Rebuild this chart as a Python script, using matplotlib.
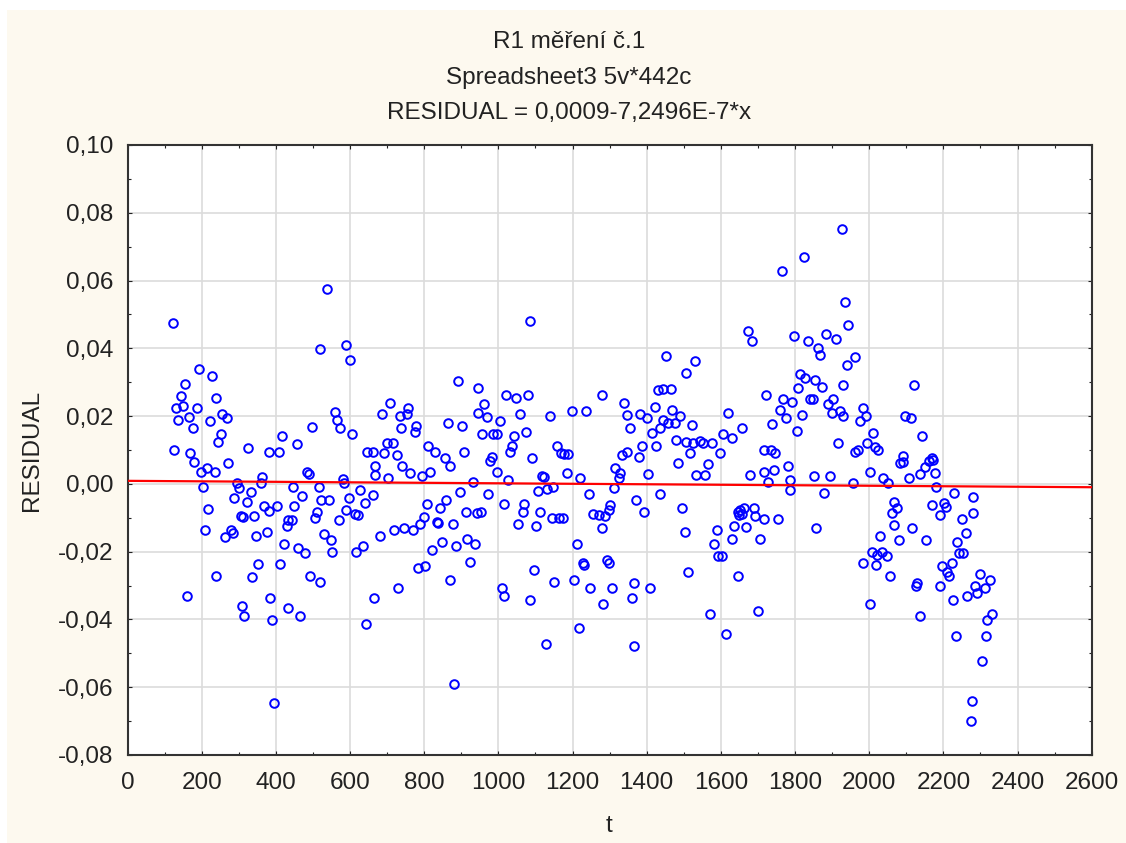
import matplotlib
matplotlib.use("Agg")
from matplotlib import pyplot as plt
from matplotlib.patches import Rectangle
from matplotlib.ticker import MultipleLocator, FuncFormatter
import numpy as np

plt.rcParams['font.family'] = ['Liberation Sans', 'DejaVu Sans']

# regression of RESIDUAL on t
intercept = 0.0009
slope = -7.2496e-7

# t, residual pairs (read per region of the t axis)
t = [122, 537, 519, 589, 600, 192, 228, 154, 143, 130, 149, 186, 239, 137, 166, 176, 222, 255, 267, 251,
     245, 126, 168, 326, 380, 409, 417, 456, 498, 559, 564, 573, 606, 645,
     179, 198, 215, 236, 272, 362, 359, 483, 488, 582, 584, 203, 294, 300, 332, 287, 321, 218, 305, 312,
     342, 368, 381, 402, 445, 471, 449, 516, 522, 543, 510, 505, 444, 433, 429, 209, 263, 279, 285, 346,
     375, 423, 460, 479, 530, 548, 552, 569, 596, 589, 613, 620, 627, 640, 616, 634, 353, 411, 238, 336,
     492, 519, 159, 384, 309, 314, 433, 465, 389, 642, 395,
     1085, 890, 946, 708, 757, 687, 735, 753, 736, 778, 775, 961, 946, 969, 1020, 1047, 1081, 1058, 1004, 865,
     903, 955, 986, 995, 1042, 1074, 1036, 1031, 1139, 1198, 1236, 1280, 1157, 1169, 1178, 1188, 1090, 699, 715, 663,
     692, 726, 811, 829, 856, 908, 982,
     870, 978, 667, 667, 703, 739, 762, 793, 816, 931, 996, 1027, 1117, 1122, 1184, 1220, 1148, 1108, 1130, 661,
     897, 973, 1015, 1069, 1065, 1112, 1144, 1164, 1175, 1243, 1256, 1270, 807, 843, 859, 798, 834, 838, 877, 913,
     942, 953, 1054, 1102, 789, 769, 746, 719, 681, 820, 847, 886, 916, 937, 924, 802, 784, 870, 730, 665,
     881, 1211, 1227, 1231, 1096, 1150, 1205, 1247, 1011, 1015, 1085, 1283, 1216, 1129,
     1926, 1824, 1764, 1935, 1944, 1674, 1685, 1798, 1836, 1863, 1867, 1884, 1911, 1940, 1930, 1452, 1529, 1506, 1431, 1445,
     1465, 1339, 1421, 1348, 1382, 1400, 1469, 1490, 1445, 1458, 1477, 1355, 1414, 1436, 1521, 1620, 1658, 1722, 1767, 1791,
     1760, 1775, 1818, 1739, 1805, 1812, 1827, 1854, 1872, 1809, 1841, 1848, 1890, 1903, 1899, 1922, 1930, 1917, 1479, 1506,
     1526, 1544, 1553, 1575, 1607, 1629, 1425, 1387, 1346, 1333, 1517, 1598, 1715, 1735, 1746, 1380,
     1485, 1566, 1315, 1328, 1324, 1312, 1404, 1533, 1556, 1679, 1715, 1742, 1728, 1782, 1787, 1787, 1851, 1895, 1878, 1857,
     1301, 1297, 1288, 1279, 1371, 1393, 1436, 1495, 1502, 1589, 1582, 1593, 1602, 1631, 1636, 1645, 1652, 1663, 1648, 1656,
     1668, 1690, 1692, 1715, 1706, 1755, 1294, 1299, 1512, 1647, 1307, 1367, 1409, 1361, 1571, 1701, 1614, 1367,
     1962, 2121, 1983, 1992, 1976, 2097, 2112, 2011, 2142, 1995, 2025, 2016, 1962, 1971, 2092, 2169,
     2092, 2083, 2160, 2172, 2151, 2137, 2178, 2002, 2038, 2052, 2106, 1956, 2181, 2229, 2281, 2067, 2074, 2061, 2170, 2190,
     2202, 2207, 2281, 2250, 2261, 2068, 2115, 2029, 2079, 2153, 2238, 2007, 2034, 2020, 2047, 1984, 2019, 2056, 2002, 2128,
     2126, 2137, 2243, 2254, 2223, 2196, 2209, 2214, 2191, 2226, 2299, 2326, 2286, 2313, 2291, 2265, 2331, 2317, 2234, 2315,
     2304, 2278, 2274]

residual = [0.0476, 0.0574, 0.0398, 0.0411, 0.0366, 0.0340, 0.0317, 0.0294, 0.0260, 0.0224, 0.0230, 0.0223, 0.0253, 0.0189, 0.0196, 0.0164, 0.0187, 0.0207, 0.0194, 0.0148,
            0.0123, 0.0099, 0.0091, 0.0106, 0.0094, 0.0094, 0.0140, 0.0118, 0.0169, 0.0213, 0.0189, 0.0164, 0.0148, 0.0095,
            0.0065, 0.0035, 0.0048, 0.0035, 0.0063, 0.0019, 0.0004, 0.0035, 0.0029, 0.0014, 0.0004, -0.0008, 0.0002, -0.0012, -0.0025, -0.0042, -0.0053, -0.0073, -0.0094, -0.0098,
            -0.0094, -0.0065, -0.0079, -0.0065, -0.0008, -0.0035, -0.0065, -0.0008, -0.0047, -0.0049, -0.0082, -0.0101, -0.0106, -0.0108, -0.0124, -0.0136, -0.0158, -0.0136, -0.0144, -0.0154,
            -0.0143, -0.0177, -0.0188, -0.0203, -0.0148, -0.0165, -0.0202, -0.0106, -0.0042, -0.0077, -0.0089, -0.0093, -0.0018, -0.0057, -0.0202, -0.0183, -0.0237, -0.0237, -0.0271, -0.0276,
            -0.0271, -0.0290, -0.0330, -0.0336, -0.0359, -0.0389, -0.0365, -0.0389, -0.0401, -0.0413, -0.0647,
            0.0481, 0.0305, 0.0282, 0.0240, 0.0225, 0.0207, 0.0201, 0.0207, 0.0166, 0.0171, 0.0153, 0.0235, 0.0210, 0.0196, 0.0263, 0.0253, 0.0263, 0.0206, 0.0187, 0.0179,
            0.0171, 0.0148, 0.0148, 0.0148, 0.0142, 0.0153, 0.0112, 0.0094, 0.0199, 0.0216, 0.0216, 0.0263, 0.0112, 0.0091, 0.0089, 0.0089, 0.0076, 0.0122, 0.0122, 0.0093,
            0.0090, 0.0086, 0.0112, 0.0094, 0.0076, 0.0094, 0.0079,
            0.0053, 0.0069, 0.0053, 0.0027, 0.0017, 0.0053, 0.0032, 0.0024, 0.0035, 0.0007, 0.0035, 0.0012, 0.0024, 0.0019, 0.0032, 0.0017, -0.0008, -0.0020, -0.0016, -0.0032,
            -0.0025, -0.0030, -0.0059, -0.0059, -0.0082, -0.0082, -0.0100, -0.0100, -0.0100, -0.0030, -0.0089, -0.0093, -0.0059, -0.0072, -0.0047, -0.0098, -0.0111, -0.0114, -0.0118, -0.0082,
            -0.0086, -0.0082, -0.0118, -0.0124, -0.0118, -0.0136, -0.0131, -0.0136, -0.0155, -0.0195, -0.0170, -0.0183, -0.0163, -0.0178, -0.0231, -0.0241, -0.0249, -0.0283, -0.0306, -0.0337,
            -0.0590, -0.0177, -0.0233, -0.0240, -0.0254, -0.0290, -0.0283, -0.0306, -0.0306, -0.0330, -0.0342, -0.0354, -0.0426, -0.0472,
            0.0751, 0.0669, 0.0628, 0.0538, 0.0469, 0.0451, 0.0422, 0.0435, 0.0422, 0.0400, 0.0381, 0.0443, 0.0427, 0.0351, 0.0292, 0.0376, 0.0364, 0.0328, 0.0278, 0.0280,
            0.0280, 0.0238, 0.0228, 0.0204, 0.0206, 0.0193, 0.0218, 0.0201, 0.0189, 0.0181, 0.0181, 0.0164, 0.0151, 0.0164, 0.0174, 0.0210, 0.0164, 0.0263, 0.0250, 0.0243,
            0.0218, 0.0194, 0.0204, 0.0176, 0.0156, 0.0324, 0.0312, 0.0307, 0.0287, 0.0282, 0.0250, 0.0250, 0.0235, 0.0250, 0.0210, 0.0214, 0.0200, 0.0122, 0.0130, 0.0124,
            0.0120, 0.0128, 0.0120, 0.0121, 0.0148, 0.0136, 0.0112, 0.0112, 0.0093, 0.0086, 0.0092, 0.0092, 0.0099, 0.0099, 0.0092, 0.0080,
            0.0063, 0.0059, 0.0046, 0.0032, 0.0017, -0.0011, 0.0029, 0.0027, 0.0027, 0.0027, 0.0035, 0.0041, 0.0007, 0.0053, 0.0012, -0.0018, 0.0022, 0.0022, -0.0026, -0.0131,
            -0.0062, -0.0077, -0.0096, -0.0131, -0.0047, -0.0082, -0.0030, -0.0072, -0.0143, -0.0136, -0.0177, -0.0212, -0.0212, -0.0162, -0.0124, -0.0082, -0.0077, -0.0072, -0.0092, -0.0090,
            -0.0128, -0.0072, -0.0096, -0.0103, -0.0162, -0.0103, -0.0224, -0.0232, -0.0260, -0.0271, -0.0308, -0.0291, -0.0308, -0.0337, -0.0384, -0.0374, -0.0443, -0.0478,
            0.0374, 0.0292, 0.0223, 0.0199, 0.0187, 0.0201, 0.0194, 0.0151, 0.0140, 0.0122, 0.0100, 0.0110, 0.0095, 0.0100, 0.0083, 0.0076,
            0.0066, 0.0061, 0.0069, 0.0071, 0.0051, 0.0029, 0.0032, 0.0035, 0.0017, 0.0002, 0.0017, 0.0004, -0.0010, -0.0026, -0.0039, -0.0052, -0.0072, -0.0085, -0.0062, -0.0091,
            -0.0055, -0.0067, -0.0085, -0.0103, -0.0144, -0.0121, -0.0131, -0.0155, -0.0165, -0.0167, -0.0170, -0.0200, -0.0200, -0.0209, -0.0212, -0.0232, -0.0239, -0.0271, -0.0354, -0.0293,
            -0.0301, -0.0389, -0.0204, -0.0203, -0.0234, -0.0242, -0.0259, -0.0273, -0.0301, -0.0344, -0.0266, -0.0285, -0.0301, -0.0306, -0.0321, -0.0330, -0.0384, -0.0401, -0.0448, -0.0448,
            -0.0524, -0.0642, -0.0701]

title_lines = ['R1 měření č.1', 'Spreadsheet3 5v*442c', 'RESIDUAL = 0,0009-7,2496E-7*x']
x_range = (0, 2600)
y_range = (-0.08, 0.10)

W, H = 1126, 843
fig = plt.figure(figsize=(W / 100, H / 100), dpi=100, facecolor='white')
# cream panel, leaving a thin white strip on top and left
fig.patches.append(Rectangle((7 / W, 0), 1, 1 - 10 / H, transform=fig.transFigure,
                             facecolor='#fdf9ef', edgecolor='none', zorder=-10))

ax = fig.add_axes([127.6 / W, 1 - 755 / H, (1091.7 - 127.6) / W, (755 - 145) / H])
ax.set_facecolor('white')

ax.plot(t, residual, linestyle='none', marker='o', markersize=6.2, markerfacecolor='none',
        markeredgecolor='#0000ff', markeredgewidth=1.4, zorder=3)

xl = np.array(x_range)
ax.plot(xl, intercept + slope * xl, color='#ff0000', linewidth=1.6, zorder=4)

ax.set_xlim(*x_range)
ax.set_ylim(*y_range)
ax.xaxis.set_major_locator(MultipleLocator(200))
ax.xaxis.set_minor_locator(MultipleLocator(100))
ax.yaxis.set_major_locator(MultipleLocator(0.02))
ax.yaxis.set_minor_locator(MultipleLocator(0.01))
ax.yaxis.set_major_formatter(FuncFormatter(lambda v, p: ('%.2f' % v).replace('.', ',').replace('-0,00', '0,00')))
ax.xaxis.set_major_formatter(FuncFormatter(lambda v, p: '%d' % round(v)))

ax.grid(True, which='major', color='#dcdcdc', linewidth=1.2, zorder=0)
ax.set_axisbelow(True)
ax.tick_params(which='both', direction='in', top=True, right=True, colors='#222222',
               labelsize=17.5, width=0.8)
ax.tick_params(which='major', length=3)
ax.tick_params(which='minor', length=2.5)
ax.tick_params(axis='y', pad=10)
ax.tick_params(axis='x', pad=12)
for s in ax.spines.values():
    s.set_linewidth(1.5)
    s.set_color('#333333')

for line, yc in zip(title_lines, (42, 78, 113)):
    fig.text(569 / W, 1 - yc / H, line, ha='center', va='center', fontsize=17.5, color='#222222')
fig.text(32 / W, 1 - 450 / H, 'RESIDUAL', rotation=90, ha='center', va='center', fontsize=17.5, color='#222222')
fig.text(609 / W, 1 - 826 / H, 't', ha='center', va='center', fontsize=17.5, color='#222222')

fig.savefig('out.png', dpi=100, facecolor=fig.get_facecolor())
